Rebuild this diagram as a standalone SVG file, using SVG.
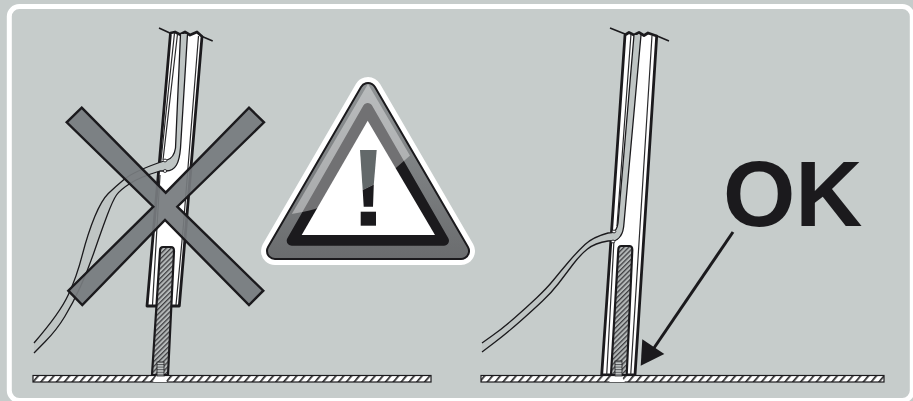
<svg xmlns="http://www.w3.org/2000/svg" width="913" height="401" viewBox="0 0 913 401">
<style>
.k{stroke:#1b1a1d;fill:none}
.prof{fill:#fff;stroke:#1b1a1d;stroke-width:2.8;stroke-linejoin:round}
.thin{stroke:#2a2a2c;stroke-width:1.2;fill:none}
.edge{stroke:#1b1a1d;stroke-width:1.3;fill:none;stroke-linejoin:round}
.cab{fill:#bfc5c4;stroke:none}
.rod{fill:url(#rodH);stroke:#1b1a1d;stroke-width:2.2}
.gnd{fill:url(#gndH);stroke:#1b1a1d;stroke-width:1.2}
.riv{fill:#fff;stroke:#1b1a1d;stroke-width:.9}
.screw{fill:url(#thr);stroke:#1b1a1d;stroke-width:.8}
.head{fill:#fff;stroke:none}
</style>
<defs>
<pattern id="rodH" width="3.4" height="3.4" patternUnits="userSpaceOnUse" patternTransform="rotate(-45)">
<rect width="3.4" height="3.4" fill="#b4b8b8"/><rect width="3.4" height="1.3" fill="#404043"/>
</pattern>
<pattern id="gndH" width="6" height="6" patternUnits="userSpaceOnUse" patternTransform="rotate(40)">
<rect width="6" height="6" fill="#fff"/><rect width="1.7" height="6" fill="#2a2a2c"/>
</pattern>
<pattern id="thr" width="4" height="2.6" patternUnits="userSpaceOnUse">
<rect width="4" height="2.6" fill="#c4c8c8"/><rect width="4" height="1" fill="#55575a"/>
</pattern>
<linearGradient id="band" gradientUnits="userSpaceOnUse" x1="0" y1="85" x2="0" y2="258">
<stop offset="0" stop-color="#8e9294"/><stop offset="1" stop-color="#6b6d6f"/>
</linearGradient>
<clipPath id="glossClip"><path d="M368 84L470 258H266Z"/></clipPath>
</defs>
<rect id="background" width="913" height="401" fill="#c6cccb"/>
<rect id="frame" x="9.3" y="6.5" width="903" height="394" rx="10" fill="none" stroke="#fff" stroke-width="5"/>

<g id="wrong-mount">
<path class="k" stroke-width="1.6" d="M159 28L172 34M201 36L212.7 41"/>
<path class="prof" d="M170.5 33L175 32L180 34.5L185 32L190 35L197 32L202 36.5L179.3 306L147 306Z"/>
<path class="thin" d="M174.5 33L160.5 165M177.5 34L163 160M198.5 36L183 230L176 305M160 175L152.5 305"/>
<path class="rod" d="M160 251Q160 247 163 247H171Q174 247 174 251L168 375H152Z"/>
<path class="cab" d="M180.5 34L187.5 34L180.5 148Q179.5 160 176.5 165Q173 171 166 171L160 171Q140 177 130 183.5Q120 190 116.5 195Q113 200 107.3 215Q101.7 230 94.8 250Q88 270 80.5 286.5Q73 303 64.8 316.5Q56.7 330 45.3 341.5L34 353L34 343Q60 313 68.3 294.8Q76.7 276.7 82.3 254.8Q88 233 94.8 216.5Q101.7 200 108.3 193.5Q115 187 124 179.5Q133 172 158 163L167 160Q174 158 175.5 148Z"/>
<path class="edge" d="M180.5 34L175.5 148Q174 158 167 160L158 163Q133 172 124 179.5Q115 187 108.3 193.5Q101.7 200 94.8 216.5Q88 233 82.3 254.8Q76.7 276.7 68.3 294.8Q60 313 34 343"/>
<path class="edge" d="M187.5 34L180.5 148Q179.5 160 176.5 165Q173 171 166 171L160 171Q140 177 130 183.5Q120 190 116.5 195Q113 200 107.3 215Q101.7 230 94.8 250Q88 270 80.5 286.5Q73 303 64.8 316.5Q56.7 330 45.3 341.5L34 353"/>
<ellipse class="riv" cx="165" cy="160.5" rx="1.8" ry="1.4"/><ellipse class="riv" cx="165" cy="171" rx="1.8" ry="1.4"/>
<rect class="gnd" x="33" y="375.5" width="398" height="6.5"/>
<path class="head" d="M156.5 375.5H164L167 382H153Z"/>
<rect class="screw" x="157" y="362" width="7" height="14"/>
<path d="M81.7 107.7L165.7 192.7L249 107.7L264 122.3L177.3 206.7L263.3 290.7L249 305L165 220L82.3 305L68.3 290.7L153.3 206.7L66.7 122.3Z" fill="#767b7e" fill-opacity=".93" stroke="#1b1a1d" stroke-width="2.4" stroke-linejoin="miter"/>
</g>

<g id="warning-sign">
<path d="M368 91L461 251H275Z" fill="#fff" stroke="#fff" stroke-width="28" stroke-linejoin="round"/>
<path d="M368 91L461 251H275Z" fill="#1b1a1d" stroke="#1b1a1d" stroke-width="18" stroke-linejoin="round"/>
<path d="M368 91L461 251H275Z" fill="url(#band)" stroke="url(#band)" stroke-width="14" stroke-linejoin="round"/>
<path d="M367.7 108L444 240.7H291.7Z" fill="#1b1a1d" stroke="#1b1a1d" stroke-width="10" stroke-linejoin="round"/>
<path d="M285 215Q305 212 315 209Q340 200 362 190Q385 180 397 167Q405 160 414 152L368 70Z" fill="#fff" fill-opacity=".38" clip-path="url(#glossClip)"/>
<path d="M367.7 120.7L435 235H301.7Z" fill="#fff"/>
<path d="M360 150H376.7L373.8 184.5Q368 187.5 362.7 190Z" fill="#63696a"/>
<path d="M362.7 190Q368 187.5 373.8 184.5L373 206.7H363.7Z" fill="#1b1a1d"/>
<rect x="360.7" y="211.7" width="15.3" height="14" fill="#1b1a1d"/>
</g>

<g id="correct-mount">
<path class="k" stroke-width="1.6" d="M610 28L625 34M656 35.5L669 41"/>
<path class="prof" d="M625 35L629 32.5L634 35L639 32.5L644 35.5L648 33L656.7 36L635 375L601.7 375Z"/>
<path class="thin" d="M631 34L617 226M652 35.5L630.7 375M614 240L606.7 375"/>
<path class="rod" d="M618.3 250Q618.3 246 621.3 246H629.3Q632.3 246 632.3 250L626.7 375H611Z"/>
<path class="cab" d="M634 35L641 35L624 223Q623.5 232 620.5 236Q617 241 613 240.7L608 241Q595 243 587.5 249Q580 255 572.5 265Q565 275 558.5 283.5Q552 292 542.5 301Q533 310 520 321.5Q507 333 494.5 342.5L482 352L482 343L492.5 335.5Q503 328 515 317.5Q527 307 537 297.5Q547 288 553.5 280Q560 272 568.5 262Q577 252 585 244.5Q593 237 608 233L612 232.7Q617 231 618 223Z"/>
<path class="edge" d="M634 35L618 223Q617 231 612 232.7L608 233Q593 237 585 244.5Q577 252 568.5 262Q560 272 553.5 280Q547 288 537 297.5Q527 307 515 317.5Q503 328 492.5 335.5L482 343"/>
<path class="edge" d="M641 35L624 223Q623.5 232 620.5 236Q617 241 613 240.7L608 241Q595 243 587.5 249Q580 255 572.5 265Q565 275 558.5 283.5Q552 292 542.5 301Q533 310 520 321.5Q507 333 494.5 342.5L482 352"/>
<ellipse class="riv" cx="614" cy="231.5" rx="1.8" ry="1.4"/><ellipse class="riv" cx="613" cy="241.5" rx="1.8" ry="1.4"/>
<rect class="gnd" x="481" y="375.5" width="403" height="6.5"/>
<path class="head" d="M615 375.5H621L625 382H609Z"/>
<rect class="screw" x="615" y="361" width="7" height="15"/>
</g>

<g id="connectors">
<path class="k" stroke-width="3" d="M733 232L654 348"/>
<path d="M642.3 339.3L664.3 354L640.7 365.7Z" fill="#1b1a1d"/>
</g>
<g id="ok-label">
<text x="723" y="226" font-family="'Liberation Sans',Arial,sans-serif" font-weight="700" font-size="93" fill="#1b1a1d">OK</text>
</g>
</svg>
